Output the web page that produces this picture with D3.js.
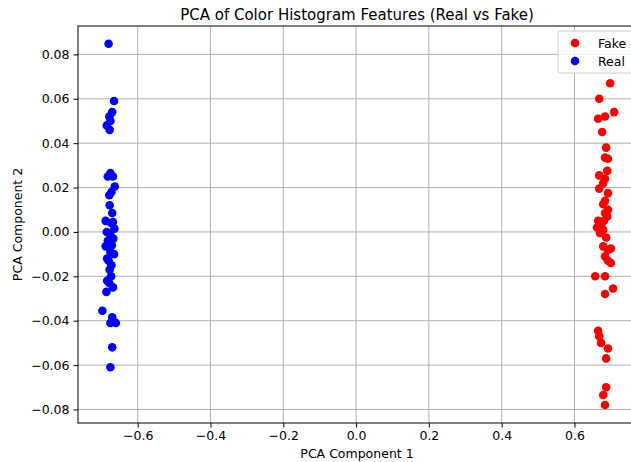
<!DOCTYPE html>
<html>
<head>
<meta charset="utf-8">
<script src="https://cdn.jsdelivr.net/npm/d3@7"></script>
<style>
  body { margin: 0; background: #fff; }
  svg { display: block; font-family: "DejaVu Sans", sans-serif; }
</style>
</head>
<body>
<script>
// points
const realPts = [
  [-0.680, 0.0848], [-0.665, 0.059], [-0.670, 0.054], [-0.678, 0.052], [-0.675, 0.050],
  [-0.685, 0.048], [-0.677, 0.046], [-0.682, 0.025], [-0.675, 0.0265], [-0.668, 0.025],
  [-0.663, 0.0205], [-0.672, 0.018], [-0.678, 0.0165], [-0.677, 0.012], [-0.670, 0.0085],
  [-0.688, 0.005], [-0.673, 0.004], [-0.668, 0.0045], [-0.664, 0.0015], [-0.685, 0.000],
  [-0.676, -0.001], [-0.667, -0.003], [-0.682, -0.004], [-0.671, -0.006], [-0.688, -0.0065],
  [-0.675, -0.009], [-0.665, -0.010], [-0.684, -0.012], [-0.680, -0.013], [-0.672, -0.015],
  [-0.677, -0.017], [-0.673, -0.020], [-0.684, -0.022], [-0.668, -0.025], [-0.678, -0.023],
  [-0.686, -0.027], [-0.697, -0.0355], [-0.670, -0.0385], [-0.675, -0.041], [-0.660, -0.041],
  [-0.670, -0.052], [-0.675, -0.061]
];
const fakePts = [
  [0.698, 0.067], [0.668, 0.060], [0.709, 0.054], [0.684, 0.052], [0.665, 0.051],
  [0.676, 0.045], [0.687, 0.038], [0.684, 0.0335], [0.692, 0.033], [0.690, 0.0275],
  [0.668, 0.0255], [0.684, 0.024], [0.679, 0.022], [0.668, 0.0195], [0.692, 0.0175],
  [0.684, 0.014], [0.679, 0.0125], [0.692, 0.010], [0.684, 0.0085], [0.690, 0.007],
  [0.665, 0.005], [0.681, 0.005], [0.673, 0.003], [0.662, 0.002], [0.679, 0.001],
  [0.670, -0.0005], [0.687, -0.0025], [0.679, -0.0065], [0.700, -0.0075], [0.692, -0.008],
  [0.684, -0.011], [0.692, -0.0130], [0.700, -0.014], [0.657, -0.020], [0.684, -0.020],
  [0.706, -0.0255], [0.684, -0.028], [0.665, -0.0445], [0.668, -0.047], [0.673, -0.050],
  [0.692, -0.0525], [0.687, -0.057], [0.687, -0.070], [0.679, -0.0735], [0.684, -0.078]
];
const series = [
  { name: "Fake", color: "red", pts: fakePts },
  { name: "Real", color: "blue", pts: realPts }
];
const xTicks = [-0.6, -0.4, -0.2, 0.0, 0.2, 0.4, 0.6];
const yTicks = [-0.08, -0.06, -0.04, -0.02, 0.00, 0.02, 0.04, 0.06, 0.08];

const w = 631, h = 462;
const m = { left: 78, right: 640, top: 26, bottom: 423 };

const svg = d3.select("body").append("svg")
  .attr("width", w).attr("height", h);

const x = d3.scaleLinear().domain([-0.764, 0.780]).range([m.left, m.right]);
const y = d3.scaleLinear().domain([-0.0861, 0.0928]).range([m.bottom, m.top]);

// grid
svg.append("g").selectAll("line").data(xTicks).join("line")
  .attr("x1", d => x(d)).attr("x2", d => x(d))
  .attr("y1", m.top).attr("y2", m.bottom)
  .attr("stroke", "#b0b0b0").attr("stroke-width", 1);
svg.append("g").selectAll("line").data(yTicks).join("line")
  .attr("x1", m.left).attr("x2", m.right)
  .attr("y1", d => y(d)).attr("y2", d => y(d))
  .attr("stroke", "#b0b0b0").attr("stroke-width", 1);

// points
series.forEach(s => {
  svg.append("g").selectAll("circle").data(s.pts).join("circle")
    .attr("cx", d => x(d[0]))
    .attr("cy", d => y(d[1]))
    .attr("r", 4.3)
    .attr("fill", s.color);
});

// axes
const fmtX = d => d3.format(".1f")(d).replace("-", "\u2212");
const fmtY = d => d3.format(".2f")(d).replace("-", "\u2212");

const xAxis = svg.append("g")
  .attr("transform", `translate(0,${m.bottom})`)
  .call(d3.axisBottom(x).tickValues(xTicks).tickFormat(fmtX).tickSize(4.5).tickPadding(4));
const yAxis = svg.append("g")
  .attr("transform", `translate(${m.left},0)`)
  .call(d3.axisLeft(y).tickValues(yTicks).tickFormat(fmtY).tickSize(4.5).tickPadding(4));

[xAxis, yAxis].forEach(a => {
  a.select(".domain").remove();
  a.selectAll("text").attr("font-size", 12.5).attr("font-family", "DejaVu Sans").attr("fill", "#000");
  a.selectAll("line").attr("stroke", "#000");
});

// spines
svg.append("rect")
  .attr("x", m.left).attr("y", m.top)
  .attr("width", m.right - m.left).attr("height", m.bottom - m.top)
  .attr("fill", "none").attr("stroke", "#000").attr("stroke-width", 1);

// labels
svg.append("text")
  .attr("x", (m.left + m.right) / 2 - 2).attr("y", 20)
  .attr("text-anchor", "middle").attr("font-size", 15)
  .text("PCA of Color Histogram Features (Real vs Fake)");
svg.append("text")
  .attr("x", (m.left + m.right) / 2 - 2).attr("y", 458)
  .attr("text-anchor", "middle").attr("font-size", 12.5)
  .text("PCA Component 1");
svg.append("text")
  .attr("transform", `translate(22,${(m.top + m.bottom) / 2}) rotate(-90)`)
  .attr("text-anchor", "middle").attr("font-size", 12.5)
  .text("PCA Component 2");

// legend
const lg = svg.append("g").attr("transform", "translate(558,31)");
lg.append("rect")
  .attr("width", 80).attr("height", 42).attr("rx", 3)
  .attr("fill", "rgba(255,255,255,0.8)").attr("stroke", "#cccccc");
series.forEach((s, i) => {
  lg.append("circle").attr("cx", 17).attr("cy", 12 + i * 18).attr("r", 4.3).attr("fill", s.color);
  lg.append("text").attr("x", 40).attr("y", 16.5 + i * 18)
    .attr("font-size", 12.5).text(s.name);
});
</script>
</body>
</html>
